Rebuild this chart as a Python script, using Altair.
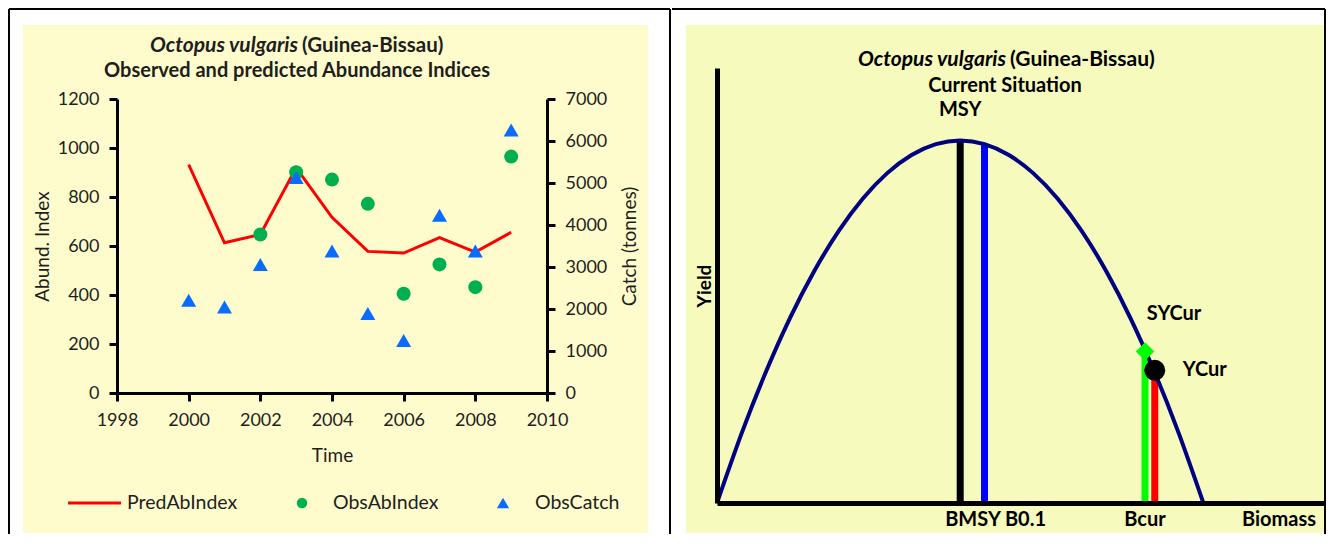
import altair as alt
import pandas as pd

FONT = "Lato"
TXT = "#1e1e1e"

# ---------------- Left panel data ----------------
years = [2000, 2001, 2002, 2003, 2004, 2005, 2006, 2007, 2008, 2009]
pred_ab_index = [932, 613, 647, 919, 717, 578, 571, 634, 575, 656]
obs_years = [2002, 2003, 2004, 2005, 2006, 2007, 2008, 2009]
obs_ab_index = [647, 901, 871, 772, 405, 525, 432, 965]
obs_catch = [2210, 2050, 3060, 5130, 3380, 1890, 1250, 4230, 3380, 6260]
time_ticks = [1998, 2000, 2002, 2004, 2006, 2008, 2010]
abund_ticks = [0, 200, 400, 600, 800, 1000, 1200]
catch_ticks = [0, 1000, 2000, 3000, 4000, 5000, 6000, 7000]

# ---------------- Right panel data ----------------
biomass = [0, 5, 10, 15, 20, 25, 30, 35, 40, 45, 50, 55, 60, 65, 70, 75, 80, 85, 90, 95, 100]
yield_curve = [0.0, 0.19, 0.36, 0.51, 0.64, 0.75, 0.84, 0.91, 0.96, 0.99, 1.0,
               0.99, 0.96, 0.91, 0.84, 0.75, 0.64, 0.51, 0.36, 0.19, 0.0]
ref_names = ["BMSY", "B0.1", "Bcur (SYCur)", "Bcur (YCur)"]
ref_biomass = [50, 55, 88, 90]
ref_yield = [1.0, 0.99, 0.418, 0.366]
ref_colors = ["#000000", "#0000FF", "#00FF00", "#FF0000"]
bmsy, msy = 50, 1.0
bcur, sycur, ycur_b, ycur = 88, 0.418, 90, 0.366

one = pd.DataFrame({"k": [0]})


def rule(x=None, x2=None, y=None, y2=None, color="black", w=2):
    enc = {}
    if x is not None:
        enc["x"] = alt.value(x)
    if x2 is not None:
        enc["x2"] = alt.value(x2)
    if y is not None:
        enc["y"] = alt.value(y)
    if y2 is not None:
        enc["y2"] = alt.value(y2)
    return alt.Chart(one).mark_rule(color=color, strokeWidth=w, strokeCap="butt").encode(**enc)


def label(text, x, y, size=19.5, weight="normal", style="normal", align="center",
          baseline="middle", color=TXT):
    return alt.Chart(one).mark_text(
        text=text, font=FONT, fontSize=size, fontWeight=weight, fontStyle=style,
        align=align, baseline=baseline, color=color
    ).encode(x=alt.value(x), y=alt.value(y))


# ======================= LEFT PANEL =======================
# plot group spans the same top as the right panel; the value axes use the lower part
W1, H1 = 430, 325
Y_RANGE = [325, 31]

left_bg = alt.Chart(one).mark_rect(color="#FEFCCD").encode(
    x=alt.value(-94), x2=alt.value(531), y=alt.value(-43), y2=alt.value(465))

axis_common = dict(domainColor="black", domainWidth=3, tickColor="black", tickWidth=3,
                   tickSize=8, labelFont=FONT, labelFontSize=18, labelColor=TXT,
                   labelPadding=10, labelFlush=False, labelOverlap=False,
                   titleFont=FONT, titleFontSize=19,
                   titleFontWeight="normal", titleColor=TXT, grid=False, zindex=1,
                   format="d")

x_time = alt.X("Time:Q", scale=alt.Scale(domain=[1998, 2010], nice=False, zero=False),
               axis=alt.Axis(values=time_ticks, title="Time", titlePadding=17, **axis_common))

pred_df = pd.DataFrame({"Time": years, "PredAbIndex": pred_ab_index})
obs_df = pd.DataFrame({"Time": obs_years, "ObsAbIndex": obs_ab_index})
catch_df = pd.DataFrame({"Time": years, "ObsCatch": obs_catch})

pred_line = alt.Chart(pred_df).mark_line(color="#FF0000", strokeWidth=3).encode(
    x=x_time,
    y=alt.Y("PredAbIndex:Q", scale=alt.Scale(domain=[0, 1200], nice=False, range=Y_RANGE),
            axis=alt.Axis(orient="left", values=abund_ticks, title="Abund. Index",
                          titlePadding=5, **axis_common)))

obs_pts = alt.Chart(obs_df).mark_point(shape="circle", filled=True, size=196,
                                       color="#00B050", opacity=1).encode(
    x=x_time,
    y=alt.Y("ObsAbIndex:Q", scale=alt.Scale(domain=[0, 1200], nice=False, range=Y_RANGE),
            axis=None))

catch_pts = alt.Chart(catch_df).mark_point(shape="triangle-up", filled=True, size=225,
                                           color="#0A6CFF", opacity=1).encode(
    x=x_time,
    y=alt.Y("ObsCatch:Q", scale=alt.Scale(domain=[0, 7000], nice=False, range=Y_RANGE),
            axis=alt.Axis(orient="right", values=catch_ticks, title="Catch (tonnes)",
                          titlePadding=14, titleAngle=270, titleBaseline="top",
                          **axis_common)))

LEG_Y = 435
left_legend = [
    rule(x=-49, x2=4, y=LEG_Y, color="#FF0000", w=3),
    label("PredAbIndex", 10, LEG_Y, align="left"),
    alt.Chart(one).mark_point(shape="circle", filled=True, size=110, color="#00B050",
                              opacity=1).encode(x=alt.value(185), y=alt.value(LEG_Y)),
    label("ObsAbIndex", 216, LEG_Y, align="left"),
    alt.Chart(one).mark_point(shape="triangle-up", filled=True, size=150, color="#0A6CFF",
                              opacity=1).encode(x=alt.value(386), y=alt.value(LEG_Y)),
    label("ObsCatch", 418, LEG_Y, align="left"),
]

left_titles = [
    label("Octopus vulgaris", 181, -22, size=21, weight="bold", style="italic", align="right"),
    label("(Guinea-Bissau)", 185, -22, size=20.5, weight="bold", align="left"),
    label("Observed and predicted Abundance Indices", 180, 3, size=20, weight="bold"),
]

left_frame = [
    rule(x=-108, y=-59, y2=466),
    rule(x=-108, x2=553, y=-59),
    rule(x=553, y=-59, y2=466),
]

left = alt.layer(
    left_bg, *left_frame, pred_line, obs_pts, catch_pts, *left_titles, *left_legend
).resolve_scale(y="independent").properties(width=W1, height=H1)

# ======================= RIGHT PANEL =======================
W2, H2 = 608, 435

right_bg = alt.Chart(one).mark_rect(color="#F6FABC").encode(
    x=alt.value(-31), x2=alt.value(607), y=alt.value(-43), y2=alt.value(465))

x_bio = alt.X("Biomass:Q", scale=alt.Scale(domain=[0, 125], nice=False, zero=False),
              axis=alt.Axis(domainColor="black", domainWidth=5, ticks=False, labels=False,
                            title=None, grid=False, zindex=1))
y_yield = alt.Y("Yield:Q", scale=alt.Scale(domain=[0, 1.2], nice=False),
                axis=alt.Axis(domainColor="black", domainWidth=5, ticks=False, labels=False,
                              title="Yield", titleFont=FONT, titleFontSize=19,
                              titleFontWeight="bold", titleColor="black", titlePadding=3,
                              grid=False, zindex=1))

curve_df = pd.DataFrame({"Biomass": biomass, "Yield": yield_curve})
ref_df = pd.DataFrame({"name": ref_names, "Biomass": ref_biomass, "Yield": ref_yield,
                       "color": ref_colors})

curve = alt.Chart(curve_df).mark_line(color="#000080", strokeWidth=4,
                                      interpolate="natural").encode(x=x_bio, y=y_yield)

ref_lines = alt.Chart(ref_df).mark_rule(strokeWidth=7, strokeCap="butt").encode(
    x="Biomass:Q", y="Yield:Q", y2=alt.datum(0),
    color=alt.Color("color:N", scale=None))

sy_df = pd.DataFrame({"Biomass": [bcur], "Yield": [sycur]})
yc_df = pd.DataFrame({"Biomass": [ycur_b], "Yield": [ycur]})
msy_df = pd.DataFrame({"Biomass": [bmsy], "Yield": [msy]})

sy_pt = alt.Chart(sy_df).mark_point(shape="diamond", filled=True, size=340,
                                    color="#00FF00", opacity=1).encode(x="Biomass:Q", y="Yield:Q")
yc_pt = alt.Chart(yc_df).mark_point(shape="circle", filled=True, size=441,
                                    color="#000000", opacity=1).encode(x="Biomass:Q", y="Yield:Q")

bold = dict(font=FONT, fontSize=20, fontWeight="bold", color="black")
sy_lab = alt.Chart(sy_df).mark_text(text="SYCur", align="center", baseline="middle",
                                    dx=29, dy=-37, **bold).encode(x="Biomass:Q", y="Yield:Q")
yc_lab = alt.Chart(yc_df).mark_text(text="YCur", align="left", baseline="middle",
                                    dx=28, dy=0, **bold).encode(x="Biomass:Q", y="Yield:Q")
msy_lab = alt.Chart(msy_df).mark_text(text="MSY", align="center", baseline="middle",
                                      **bold).encode(x="Biomass:Q", y=alt.value(42))
bmsy_lab = alt.Chart(msy_df).mark_text(text="BMSY B0.1", align="left", baseline="middle",
                                       dx=-15, **bold).encode(x="Biomass:Q", y=alt.value(452))
bcur_lab = alt.Chart(sy_df).mark_text(text="Bcur", align="center", baseline="middle",
                                      **bold).encode(x="Biomass:Q", y=alt.value(452))
biomass_lab = alt.Chart(one).mark_text(text="Biomass", align="right", baseline="middle",
                                       **bold).encode(x=alt.value(599), y=alt.value(452))

title_bold = dict(font=FONT, fontSize=21, fontWeight="bold", color="black")
right_titles = [
    alt.Chart(one).mark_text(text="Octopus vulgaris", align="right", baseline="middle",
                             fontStyle="italic", **title_bold).encode(x=alt.value(289), y=alt.value(-8)),
    alt.Chart(one).mark_text(text="(Guinea-Bissau)", align="left", baseline="middle",
                             **title_bold).encode(x=alt.value(293), y=alt.value(-8)),
    alt.Chart(one).mark_text(text="Current Situation", align="center", baseline="middle",
                             **bold).encode(x=alt.value(288), y=alt.value(18)),
]

right_frame = [
    rule(x=-45, x2=608, y=-59),
    rule(x=608, y=-59, y2=466),
]

right = alt.layer(
    right_bg, *right_frame, ref_lines, curve, sy_pt, yc_pt,
    sy_lab, yc_lab, msy_lab, bmsy_lab, bcur_lab, biomass_lab, *right_titles
).properties(width=W2, height=H2)

chart = alt.hconcat(left, right, spacing=0).properties(
    padding=0, background="white"
).configure_view(stroke=None)

chart.save("out.html", embed_options={"renderer": "svg", "actions": False})
